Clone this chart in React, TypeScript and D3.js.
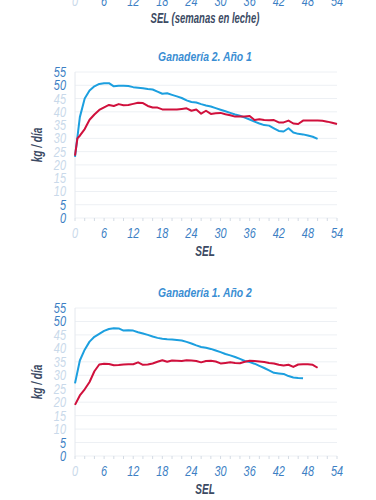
import React from "react";
import * as d3 from "d3";

const xTicks = [0, 6, 12, 18, 24, 30, 36, 42, 48, 54];
const yTicks = [0, 5, 10, 15, 20, 25, 30, 35, 40, 45, 50, 55];

const g2a1BlueWeeks = d3.range(0, 51);
const g2a1Blue = [23, 38, 45, 48, 49.6, 50.5, 50.8, 50.8, 49.6, 49.8, 49.8, 49.7, 49.3, 49.1, 48.9, 48.6, 48.4, 47.6, 46.8, 47, 46.4, 45.8, 45.2, 44.3, 43.7, 43.5, 42.9, 42.4, 42, 41.4, 40.8, 40.2, 39.6, 39, 38.5, 37.8, 37.1, 36.3, 35.6, 35, 34.8, 33.8, 32.8, 32.6, 33.8, 32.2, 31.7, 31.5, 31.1, 30.6, 29.8];
const g2a1RedWeeks = [0, 0.5, ...d3.range(1, 55)];
const g2a1Red = [23.5, 30, 31, 33.5, 37, 39, 40.7, 41.7, 42.6, 42.2, 42.9, 42.5, 42.6, 43, 43.4, 43.3, 42.2, 41.6, 41.6, 40.9, 40.9, 40.9, 40.9, 41.1, 41.3, 40.4, 40.9, 39.3, 40.4, 39.2, 39.5, 39.6, 39.1, 38.7, 38.2, 38.2, 38.2, 38.4, 36.9, 37.2, 36.9, 36.8, 36.9, 36, 36, 36.7, 35.6, 35.4, 36.7, 36.7, 36.7, 36.7, 36.6, 36.3, 35.9, 35.4];

const g1a2BlueWeeks = d3.range(0, 48);
const g1a2Blue = [27, 35.5, 39.5, 42.5, 44.3, 45.4, 46.5, 47.2, 47.5, 47.4, 46.6, 46.7, 46.6, 46, 45.5, 45, 44.4, 43.9, 43.6, 43.4, 43.3, 43.1, 42.9, 42.4, 41.8, 41.1, 40.5, 40.2, 39.8, 39.2, 38.6, 37.9, 37.4, 36.8, 36.1, 35.3, 34.9, 34.3, 33.5, 32.7, 31.8, 30.9, 30.7, 30.5, 29.7, 29.2, 29, 28.9];
const g1a2RedWeeks = d3.range(0, 51);
const g1a2Red = [19, 22.5, 24.8, 27.5, 31.5, 34, 34.3, 34.2, 33.7, 33.8, 34, 34.1, 34.1, 34.8, 33.9, 34, 34.4, 35, 35.6, 35, 35.5, 35.4, 35.3, 35.6, 35.5, 35.3, 34.8, 35.3, 35.4, 35.1, 34.4, 34.6, 34.8, 34.6, 34.5, 35, 35.4, 35.3, 35.1, 34.9, 34.6, 34.4, 33.9, 33.6, 33.9, 33.1, 34, 34.1, 34.1, 33.9, 32.8];

const BLUE = "#1c9fdf";
const RED = "#d0103c";
const TICK_BLUE = "#3d7fc4";
const FADED = "#c9d9ea";
const DARK = "#3b4a63";
const FONT = "'Liberation Sans', Arial, sans-serif";

const x = d3.scaleLinear().domain([0, 54]).range([75, 337]);
const minorX = d3.range(0, 55, 2);

type CTProps = {
  x: number;
  y: number;
  anchor?: "start" | "middle" | "end";
  size?: number;
  bold?: boolean;
  fill: string;
  sx?: number;
  rotate?: number;
  children: React.ReactNode;
};

function CText({ x, y, anchor = "middle", size = 14, bold = false, fill, sx = 0.78, rotate = 0, children }: CTProps) {
  return (
    <text
      transform={`translate(${x},${y}) rotate(${rotate}) scale(${sx},1)`}
      textAnchor={anchor}
      fontFamily={FONT}
      fontStyle="italic"
      fontWeight={bold ? "bold" : "normal"}
      fontSize={size}
      fill={fill}
    >
      {children}
    </text>
  );
}

type PanelProps = {
  title: string;
  top: number;
  bottom: number;
  blueW: number[];
  blue: number[];
  redW: number[];
  red: number[];
  faded: number[];
};

function Panel({ title, top, bottom, blueW, blue, redW, red, faded }: PanelProps) {
  const y = d3.scaleLinear().domain([0, 55]).range([bottom, top]);
  const line = d3.line<[number, number]>().x((d) => x(d[0])).y((d) => y(d[1]));
  const bData = blueW.map((w, i) => [w, blue[i]] as [number, number]);
  const rData = redW.map((w, i) => [w, red[i]] as [number, number]);
  return (
    <g>
      <CText x={205} y={top - 11} size={13} bold fill="#3a8ed3" sx={0.8}>
        {title}
      </CText>
      {yTicks.map((t) => (
        <line key={"g" + t} x1={x(0)} x2={x(54)} y1={y(t)} y2={y(t)} stroke="#edf0f4" strokeWidth={1} />
      ))}
      <line x1={x(0)} x2={x(0)} y1={y(55)} y2={y(0)} stroke="#e4e8ee" strokeWidth={1} />
      {minorX.map((t) => (
        <line key={"m" + t} x1={x(t)} x2={x(t)} y1={y(0)} y2={y(0) + 3} stroke="#d4dbe4" strokeWidth={1} />
      ))}
      {yTicks.map((t) => (
        <CText key={"y" + t} x={66} y={y(t) + 5} anchor="end" fill={faded.includes(t) ? FADED : TICK_BLUE}>
          {t}
        </CText>
      ))}
      {xTicks.map((t) => (
        <CText key={"x" + t} x={x(t)} y={y(0) + 20} fill={t === 0 ? FADED : TICK_BLUE}>
          {t}
        </CText>
      ))}
      <CText x={42} y={(top + bottom) / 2} rotate={-90} bold fill={DARK} sx={0.72}>
        kg / día
      </CText>
      <CText x={205} y={bottom + 38} bold fill={DARK} sx={0.72}>
        SEL
      </CText>
      <path d={line(bData) || ""} fill="none" stroke={BLUE} strokeWidth={2} strokeLinejoin="round" />
      <path d={line(rData) || ""} fill="none" stroke={RED} strokeWidth={2} strokeLinejoin="round" />
    </g>
  );
}

export default function App() {
  return (
    <svg width={376} height={500} style={{ position: "absolute", left: 0, top: 0, background: "#fff" }}>
      <rect width={376} height={500} fill="#fff" />
      {xTicks.map((t) => (
        <CText key={"tx" + t} x={x(t)} y={6} fill={t === 0 ? FADED : TICK_BLUE}>
          {t}
        </CText>
      ))}
      <CText x={205} y={23} bold fill={DARK} sx={0.68}>
        SEL (semanas en leche)
      </CText>
      <Panel title="Ganadería 2. Año 1" top={72} bottom={218} blueW={g2a1BlueWeeks} blue={g2a1Blue} redW={g2a1RedWeeks} red={g2a1Red} faded={[10, 15, 20, 25, 30, 35, 40, 45]} />
      <Panel title="Ganadería 1. Año 2" top={308} bottom={456} blueW={g1a2BlueWeeks} blue={g1a2Blue} redW={g1a2RedWeeks} red={g1a2Red} faded={[10, 15, 20, 25, 30, 35, 40, 45]} />
    </svg>
  );
}
